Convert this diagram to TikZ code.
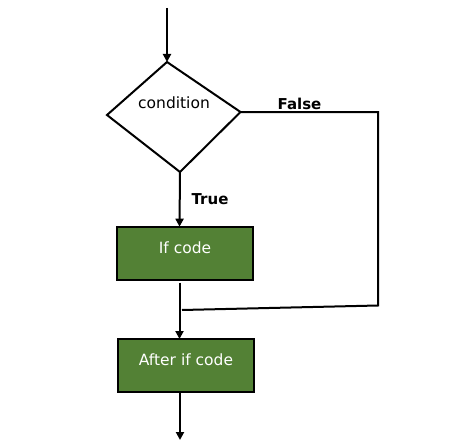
\documentclass[tikz,border=0pt]{standalone}
\usepackage{fontspec}
\setmainfont{DejaVu Sans}
\usetikzlibrary{arrows.meta}
\definecolor{codegreen}{HTML}{538135}
\begin{document}
\begin{tikzpicture}[x=1pt,y=-1pt,
  line/.style={line width=2pt,draw=black},
  arr/.style={line/.try,line width=2pt,-{Triangle[length=8pt,width=8pt]}},
  codebox/.style={draw=black,line width=2pt,fill=codegreen,text=white,inner sep=0pt,
     minimum width=136pt,text height=26.7pt,text depth=26.6pt,font=\fontsize{15.5}{18}\selectfont},
  lbl/.style={anchor=base,font=\fontsize{15}{18}\selectfont\bfseries},
  condtext/.style={anchor=base,font=\fontsize{15.5}{18}\selectfont}]
\useasboundingbox (0,0) rectangle (466,444);
% diamond
\coordinate (dT) at (167,62);
\coordinate (dL) at (107,115);
\coordinate (dR) at (240.5,112);
\coordinate (dB) at (180,172);
\draw[line,line join=miter] (dT) -- (dR) -- (dB) -- (dL) -- cycle;
\node[condtext] (cond) at (174,109) {condition};
% boxes
\node[codebox] (ifbox) at (185,253.3) {If code};
\node[codebox] (afterbox) at (186,365.5) {After if code};
% labels
\node[lbl] (false) at (299.5,109.3) {False};
\node[lbl] (true) at (210,204) {True};
% connectors
\coordinate (start) at (167,8);
\coordinate (ifin) at (179.5,226.7);
\coordinate (ifout) at (179.5,282.5);
\coordinate (afterin) at (179.5,339);
\coordinate (afterout) at (180,392);
\coordinate (endpt) at (180,440);
\coordinate (fc1) at (378,112);
\coordinate (fc2) at (378,305.5);
\coordinate (merge) at (182,310);
\draw[arr] (start) -- (dT);
\draw[arr] (dB) -- (ifin);
\draw[arr] (ifout) -- (afterin);
\draw[arr] (afterout) -- (endpt);
\draw[line,line join=miter] (dR) -- (fc1) -- (fc2) -- (merge);
\end{tikzpicture}
\end{document}
